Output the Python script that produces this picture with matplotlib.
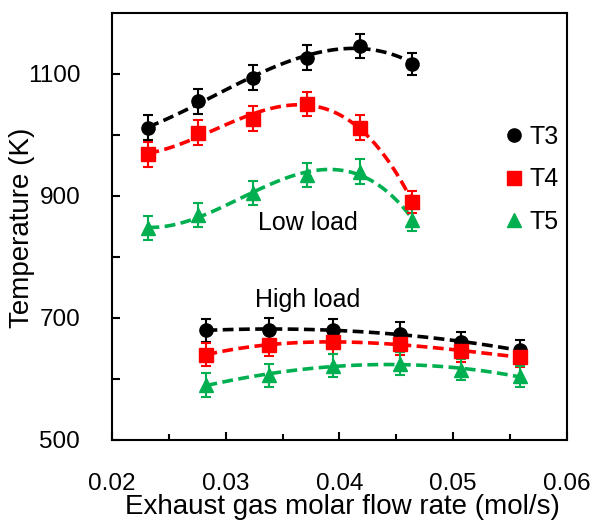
import matplotlib
matplotlib.use("Agg")
import matplotlib.pyplot as plt
import numpy as np

plt.rcParams['font.family'] = ['Liberation Sans', 'DejaVu Sans']

# low load
x_low = [0.0232, 0.0276, 0.0324, 0.0371, 0.0418, 0.0464]
t3_low = [1012, 1055, 1094, 1127, 1146, 1117]
t4_low = [968, 1004, 1027, 1051, 1012, 890]
t5_low = [847, 869, 905, 934, 940, 861]
err_low = [20, 20, 20, 20, 20, 18]

# high load
x_high = [0.0283, 0.0338, 0.0394, 0.0453, 0.0507, 0.0559]
t3_high = [680, 681, 680, 674, 660, 647]
t4_high = [640, 656, 660, 658, 645, 636]
t5_high = [590, 606, 622, 625, 615, 604]
err_high = [19, 19, 19, 19, 17, 17]

labels = ["T3", "T4", "T5"]
colors = ["black", "#FF0000", "#00B050"]
markers = ["o", "s", "^"]

fig = plt.figure(figsize=(5.93, 5.20), dpi=100)
ax = fig.add_axes([0.189, 0.154, 0.767, 0.821])

for xs, series, err in [(x_low, [t3_low, t4_low, t5_low], err_low),
                        (x_high, [t3_high, t4_high, t5_high], err_high)]:
    xs = np.array(xs)
    for i, ys in enumerate(series):
        ax.errorbar(xs, ys, yerr=err, fmt=markers[i], color=colors[i],
                    ms=9.5, capsize=3.5, elinewidth=1.5, capthick=1.5, zorder=3)
        # polynomial trendline
        p = np.polyfit(xs, ys, 3)
        xf = np.linspace(xs[0], xs[-1], 100)
        ax.plot(xf, np.polyval(p, xf), "--", color=colors[i], lw=2.6,
                dashes=(3.0, 1.5), zorder=2)

ax.set_xlim(0.02, 0.06)
ax.set_ylim(500, 1200)
ax.set_xticks([0.02, 0.03, 0.04, 0.05, 0.06])
ax.set_xticks(np.arange(0.025, 0.06, 0.01), minor=True)
ax.set_xticklabels(["0.02", "0.03", "0.04", "0.05", "0.06"])
ax.set_yticks([500, 600, 700, 800, 900, 1000, 1100])
ax.set_yticklabels(["500", "", "700", "", "900", "", "1100"])
ax.tick_params(direction="in", labelsize=17.5, length=6, width=1.5)
ax.tick_params(axis="y", pad=23)
ax.tick_params(axis="x", pad=24)
ax.tick_params(axis="x", which="minor", direction="in", length=4, width=1.5)
for s in ax.spines.values():
    s.set_linewidth(1.5)

ax.text(0.0372, 856, "Low load", fontsize=18, ha="center", va="center")
ax.text(0.0372, 730, "High load", fontsize=18, ha="center", va="center")

fig.text(342 / 593, 6 / 520, "Exhaust gas molar flow rate (mol/s)",
         fontsize=20, ha="center", va="baseline")
fig.text(22 / 593, 1 - 228 / 520, "Temperature (K)", fontsize=20,
         rotation=90, ha="center", va="center")

handles = [plt.Line2D([], [], ls="", marker=m, color=c, ms=9.5)
           for m, c in zip(markers, colors)]
ax.legend(handles, labels, loc="center left", bbox_to_anchor=(0.84, 0.61),
          frameon=False, fontsize=18, handlelength=0.6, handletextpad=0.3,
          labelspacing=0.75, borderpad=0)

fig.savefig("out.png", dpi=100)
